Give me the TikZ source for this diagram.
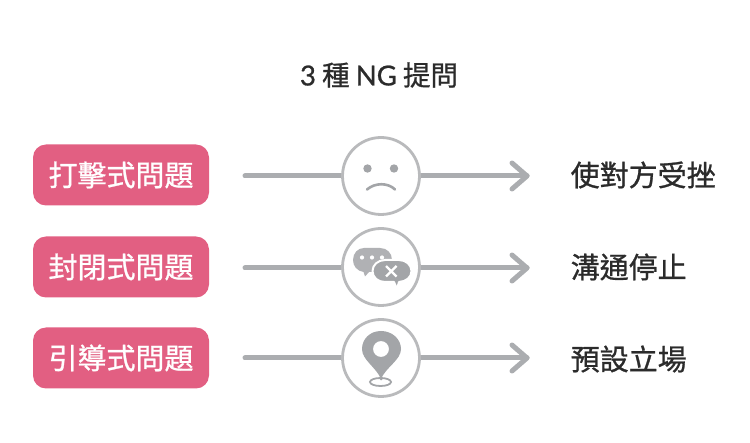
\documentclass[tikz,border=0pt]{standalone}
\usepackage{fontspec}
\setmainfont{Noto Sans CJK TC}[FakeBold=0.9]
\newfontfamily\latinfont{Lato}[FakeBold=0.9]
\definecolor{pinkbox}{HTML}{E25F82}
\definecolor{linegray}{HTML}{ABADB0}
\definecolor{ringgray}{HTML}{B9BABC}
\definecolor{icongray}{HTML}{A3A5A8}
\definecolor{bubblegray}{HTML}{B0B1B4}
\definecolor{inktext}{HTML}{2B2B2B}
\tikzset{
  tagbox/.style={fill=pinkbox,draw=none,rounded corners=13pt,minimum width=176pt,minimum height=61pt,inner sep=0pt,text=white,font=\fontsize{29pt}{31pt}\selectfont},
  result/.style={anchor=west,inner sep=0pt,text=inktext,font=\fontsize{29pt}{31pt}\selectfont},
  ring/.style={circle,draw=ringgray,line width=2.8pt,minimum size=77pt,inner sep=0pt,fill=white},
  flow/.style={draw=linegray,line width=5pt,line cap=round},
  head/.style={draw=linegray,line width=5pt,line cap=round,line join=round,fill=none},
}
\begin{document}
\begin{tikzpicture}[x=1pt,y=-1pt]
\useasboundingbox (0,0) rectangle (750,443);
\node[inner sep=0pt,text=inktext,font=\fontsize{27.5pt}{29pt}\selectfont] (title) at (379,75) {{\latinfont 3} 種 {\latinfont NG} 提問};
% tags
\node[tagbox] (t1) at (121,175) {打擊式問題};
\node[tagbox] (t2) at (121,267) {封閉式問題};
\node[tagbox] (t3) at (121,358) {引導式問題};
% results
\node[result] (r1) at (570.5,175) {使對方受挫};
\node[result] (r2) at (570.5,267) {溝通停止};
\node[result] (r3) at (570.5,359) {預設立場};
% free ends
\coordinate (s1) at (245,176); \coordinate (e1) at (527,176);
\coordinate (s2) at (245,268); \coordinate (e2) at (527,268);
\coordinate (s3) at (245,358); \coordinate (e3) at (527,358);
\foreach \i in {1,2,3}{
  \draw[flow] (s\i) -- (e\i);
  \draw[head] ([shift={(-15,-13)}]e\i) -- (e\i) -- ([shift={(-15,13)}]e\i);
}
% rings
\node[ring] (c1) at (381,176) {};
\node[ring] (c2) at (381,267) {};
\node[ring] (c3) at (381,358) {};
% sad face
\fill[icongray] (367.5,168.5) circle (4.2);
\fill[icongray] (394,168.5) circle (4.2);
\draw[icongray,line width=2.6pt,line cap=round] (367,189.5) .. controls (375,182.5) and (388,182.5) .. (395,189.5);
% chat icon: left bubble
\fill[bubblegray] (364,248) -- (380,248) .. controls (387,248) and (392,253) .. (392,260) .. controls (392,267) and (387,272) .. (380,272) -- (369,272) -- (365,276.5) -- (363.5,272) .. controls (357,271) and (353,266) .. (353,260) .. controls (353,253) and (358,248) .. (364,248) -- cycle;
\fill[white] (362,257.5) circle (2.1) (372,257.5) circle (2.1) (382,257.5) circle (2.1);
% chat icon: right bubble with white halo
\path[fill=icongray,draw=white,line width=2pt,line join=round] (385,260) .. controls (378,260) and (372.5,265) .. (372.5,271) .. controls (372.5,277.5) and (378,282) .. (385,282) -- (394,282) -- (397,289) -- (399,282) .. controls (406,281.5) and (411.5,277.5) .. (411.5,271) .. controls (411.5,265) and (406,260) .. (399,260) -- cycle;
\draw[white,line width=2.2pt] (386,266) -- (396.5,276.5) (396.5,266) -- (386,276.5);
% pin icon
\fill[icongray,even odd rule] (381,331) .. controls (370,331) and (362,339) .. (362,349) .. controls (362,360) and (376,367) .. (381,379) .. controls (386,367) and (401,360) .. (401,349) .. controls (401,339) and (392,331) .. (381,331) -- cycle (381,349) circle (8);
\draw[icongray,line width=1.8pt] (380.5,382) ellipse (10.5 and 4);
\fill[icongray] (381,379) circle (1.5);
\end{tikzpicture}
\end{document}
